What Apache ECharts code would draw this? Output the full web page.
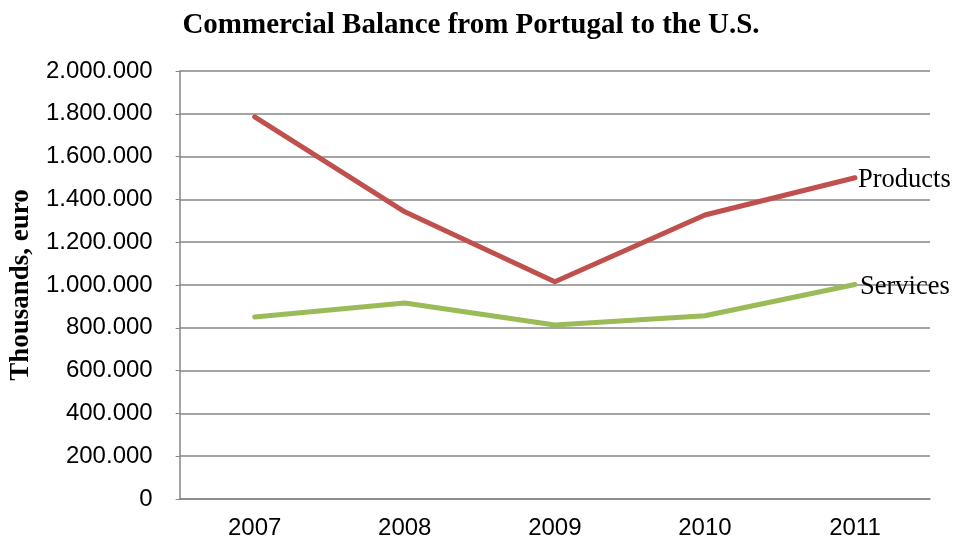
<!DOCTYPE html>
<html>
<head>
<meta charset="utf-8">
<script src="https://cdn.jsdelivr.net/npm/echarts@6/dist/echarts.min.js"></script>
<style>html,body{margin:0;padding:0;background:#fff}#c{width:954px;height:549px}</style>
</head>
<body>
<div id="c"></div>
<script>
const years = ['2007', '2008', '2009', '2010', '2011'];
const products = [1786000, 1342000, 1015000, 1327000, 1501000];
const services = [851000, 916000, 813000, 856000, 1002000];
const yTicks = [0, 200000, 400000, 600000, 800000, 1000000, 1200000, 1400000, 1600000, 1800000, 2000000];

function fmt(v) {
  return String(v).replace(/\B(?=(\d{3})+(?!\d))/g, '.');
}

const chart = echarts.init(document.getElementById('c'));
const gridColor = '#868686';
chart.setOption({
  animation: false,
  title: {
    text: 'Commercial Balance from Portugal to the U.S.',
    left: 466, top: 6, textAlign: 'center',
    textStyle: { fontFamily: 'Liberation Serif', fontWeight: 'bold', fontSize: 29, color: '#000' }
  },
  grid: { left: 178, right: 24, top: 71, bottom: 50, containLabel: false },
  xAxis: {
    type: 'category', data: years, boundaryGap: true,
    axisLine: { lineStyle: { color: gridColor, width: 1.5 } },
    axisTick: { show: false },
    axisLabel: { fontFamily: 'Liberation Sans', fontSize: 24, color: '#000', margin: 17 }
  },
  yAxis: {
    type: 'value', min: yTicks[0], max: yTicks[yTicks.length - 1], interval: 200000,
    name: 'Thousands, euro', nameLocation: 'middle', nameGap: 136,
    nameTextStyle: { fontFamily: 'Liberation Serif', fontWeight: 'bold', fontSize: 27, color: '#000' },
    axisLine: { show: true, lineStyle: { color: gridColor, width: 1.5 } },
    axisTick: { show: true, length: 4, lineStyle: { color: gridColor } },
    splitLine: { lineStyle: { color: gridColor, width: 1.5 } },
    axisLabel: { fontFamily: 'Liberation Sans', fontSize: 24, color: '#000', margin: 27, formatter: fmt }
  },
  series: [
    {
      name: 'Products', type: 'line', data: products, showSymbol: false,
      lineStyle: { color: '#C0504D', width: 5, cap: 'round', join: 'round' },
      itemStyle: { color: '#C0504D' },
      endLabel: { show: true, formatter: '{a}', distance: 3, offset: [0, 2], color: '#000',
        fontFamily: 'Liberation Serif', fontSize: 26.5 }
    },
    {
      name: 'Services', type: 'line', data: services, showSymbol: false,
      lineStyle: { color: '#9BBB59', width: 5, cap: 'round', join: 'round' },
      itemStyle: { color: '#9BBB59' },
      endLabel: { show: true, formatter: '{a}', distance: 5, offset: [0, 2], color: '#000',
        fontFamily: 'Liberation Serif', fontSize: 26.5 }
    }
  ]
});
</script>
</body>
</html>
